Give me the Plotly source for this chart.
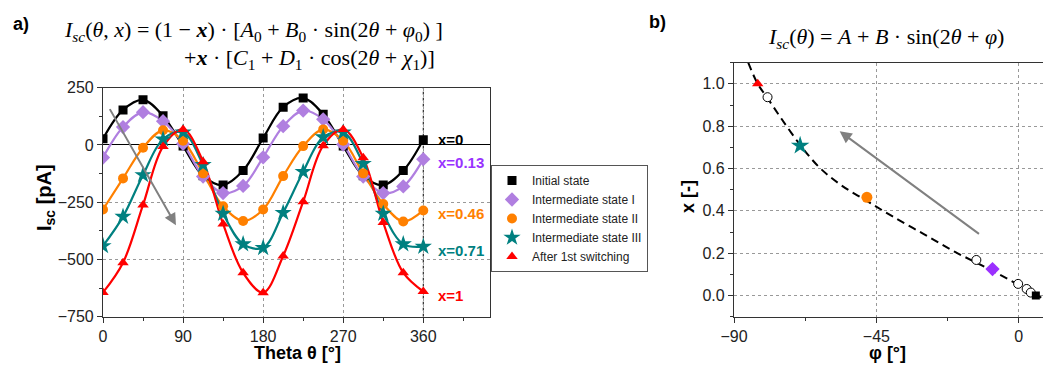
import plotly.graph_objects as go

# ---------------- data: panel a) ----------------
theta = [0, 22.5, 45, 67.5, 90, 112.5, 135, 157.5, 180, 202.5, 225, 247.5, 270, 292.5, 315, 337.5, 360]
isc_initial = [27, 153, 197, 127, -5, -135, -175, -112, 30, 165, 205, 134, -5, -135, -175, -112, 23]
isc_inter1 = [-55, 78, 143, 104, 5, -138, -210, -179, -54, 82, 150, 112, 2, -138, -210, -181, -62]
isc_inter2 = [-282, -146, -12, 64, 18, -124, -268, -332, -282, -136, -5, 68, 18, -124, -258, -334, -286]
isc_inter3 = [-441, -313, -131, 25, 55, -87, -300, -433, -449, -296, -117, 34, 55, -82, -300, -433, -444]
isc_switch = [-644, -514, -262, -7, 68, -73, -345, -558, -645, -485, -248, -3, 68, -56, -339, -558, -640]

series_names = ["Initial state", "Intermediate state I", "Intermediate state II",
                "Intermediate state III", "After 1st switching"]
end_labels = ["x=0", "x=0.13", "x=0.46", "x=0.71", "x=1"]
end_label_y = [22, -76, -298, -463, -656]

# ---------------- data: panel b) ----------------
phi_states = [5.4, -8.3, -48.0, -69.1, -82.5]
x_states = [0.0, 0.125, 0.464, 0.708, 1.0]
phi_open = [-79.4, -13.4, -0.2, 2.5, 3.8]
x_open = [0.937, 0.168, 0.055, 0.031, 0.014]
phi_fit = [-85.5, -82.5, -79.5, -75, -69, -63, -56, -48, -40, -30, -20, -10, 0, 10]
x_fit = [1.10, 1.00, 0.935, 0.835, 0.71, 0.605, 0.52, 0.447, 0.375, 0.29, 0.205, 0.13, 0.05, -0.035]

# ---------------- styles ----------------
colors = ["#000000", "#B07FE0", "#FF8000", "#008080", "#FF0000"]
label_colors = ["#000000", "#9933FF", "#FF8000", "#008080", "#FF0000"]
right_colors = ["#000000", "#9B30FF", "#FF8000", "#008080", "#FF0000"]
symbols = ["square", "diamond", "circle", "star", "triangle-up"]
sizes = [9, 11, 10, 13, 10]
right_sizes = [8, 11, 11, 14, 10]

OFF = 8  # default page body margin
W, H = 1051 - OFF, 373 - OFF
def px(x): return (x - OFF) / W
def py(y): return 1 - (y - OFF) / H

fig = go.Figure()
all_series = [isc_initial, isc_inter1, isc_inter2, isc_inter3, isc_switch]

for i, ys in enumerate(all_series):
    fig.add_trace(go.Scatter(x=theta, y=ys, mode="lines", line=dict(color=colors[i], width=2.2, shape="spline", smoothing=1.0),
                             showlegend=False, hoverinfo="skip", xaxis="x", yaxis="y"))
for i, ys in enumerate(all_series):
    fig.add_trace(go.Scatter(x=theta, y=ys, mode="markers", name=series_names[i],
                             marker=dict(color=colors[i], symbol=symbols[i], size=sizes[i], line=dict(width=0)),
                             xaxis="x", yaxis="y"))

# panel b
fig.add_trace(go.Scatter(x=phi_fit, y=x_fit, mode="lines",
                         line=dict(color="black", width=2, dash="8px,5px", shape="spline", smoothing=1.0),
                         showlegend=False, xaxis="x2", yaxis="y2"))
fig.add_trace(go.Scatter(x=phi_open, y=x_open, mode="markers",
                         marker=dict(color="white", symbol="circle", size=9, line=dict(color="black", width=1)),
                         showlegend=False, xaxis="x2", yaxis="y2"))
for i in range(5):
    fig.add_trace(go.Scatter(x=[phi_states[i]], y=[x_states[i]], mode="markers",
                             marker=dict(color=right_colors[i], symbol=symbols[i], size=right_sizes[i], line=dict(width=0)),
                             showlegend=False, xaxis="x2", yaxis="y2"))

tickfont = dict(family="Arial, Liberation Sans, sans-serif", size=16, color="#222")
axis_common = dict(showline=True, linecolor="#333", linewidth=1.2, mirror=True, ticks="outside", ticklen=5,
                   tickcolor="#333", tickfont=tickfont, showgrid=True, gridcolor="#999", griddash="dot", gridwidth=1,
                   automargin=False)

fig.update_layout(
    width=W, height=H, margin=dict(l=0, r=0, t=0, b=0, autoexpand=False),
    paper_bgcolor="white", plot_bgcolor="white",
    xaxis=dict(domain=[px(103), px(490)], range=[0, 435], tick0=0, dtick=90, zeroline=False,
               minor=dict(dtick=45, ticklen=3, ticks="outside", showgrid=False), anchor="y", **axis_common),
    yaxis=dict(domain=[py(316.7), py(87.7)], range=[-750, 250], tick0=0, dtick=250,
               zeroline=True, zerolinecolor="black", zerolinewidth=1.2,
               minor=dict(dtick=125, ticklen=3, ticks="outside", showgrid=False), anchor="x", **axis_common),
    xaxis2=dict(domain=[px(734), px(1050.4)], range=[-90, 10], tick0=0, dtick=45, zeroline=False,
                minor=dict(dtick=22.5, ticklen=3, ticks="outside", showgrid=False), anchor="y2", **axis_common),
    yaxis2=dict(domain=[py(316.7), py(62.7)], range=[-0.1, 1.1], tick0=0, dtick=0.2, tickformat=".1f", zeroline=False,
                minor=dict(dtick=0.1, ticklen=3, ticks="outside", showgrid=False), anchor="x2", **axis_common),
    legend=dict(x=px(491), y=py(165), xanchor="left", yanchor="top", bgcolor="white",
                bordercolor="#555", borderwidth=1, font=dict(family="Arial, Liberation Sans, sans-serif", size=12, color="#222"),
                tracegroupgap=0, itemwidth=30),
    showlegend=True,
)

# dashed line at 360
fig.add_shape(type="line", xref="x", yref="y", x0=360, x1=360, y0=-750, y1=250,
              line=dict(color="black", width=1, dash="3px,3px"), layer="below")

# arrows
fig.add_annotation(xref="x", yref="y", axref="x", ayref="y", x=82, y=-351, ax=6.7, ay=163,
                   showarrow=True, arrowhead=2, arrowsize=1.2, arrowwidth=2, arrowcolor="#808080", text="")
fig.add_annotation(xref="x2", yref="y2", axref="x2", ayref="y2", x=-56.6, y=0.776, ax=-12.1, ay=0.286,
                   showarrow=True, arrowhead=2, arrowsize=1.2, arrowwidth=2, arrowcolor="#808080", text="")

# end labels
for i in range(5):
    fig.add_annotation(xref="x", yref="y", x=374.5, y=end_label_y[i], text="<b>%s</b>" % end_labels[i],
                       showarrow=False, xanchor="left", yanchor="middle",
                       font=dict(family="Arial, Liberation Sans, sans-serif", size=15, color=label_colors[i]))

bold_font = dict(family="Arial, Liberation Sans, sans-serif", size=18, color="black")
serif = dict(family="Liberation Serif, DejaVu Serif, serif", size=22, color="black")

def ann(x, y, text, font, xanchor="center", angle=0):
    fig.add_annotation(xref="paper", yref="paper", x=px(x), y=py(y), text=text, showarrow=False,
                       xanchor=xanchor, yanchor="middle", font=font, textangle=angle)

ann(21, 24, "<b>a)</b>", bold_font)
ann(657, 22, "<b>b)</b>", bold_font)
ann(62, 31, "<i>I</i><sub><i>sc</i></sub>(<i>θ</i>, <i>x</i>) = (1 − <b><i>x</i></b>) · [<i>A</i><sub>0</sub> + <i>B</i><sub>0</sub> · sin(2<i>θ</i> + <i>φ</i><sub>0</sub>) ]", serif, "left")
ann(182, 59, "+<b><i>x</i></b> · [<i>C</i><sub>1</sub> + <i>D</i><sub>1</sub> · cos(2<i>θ</i> + <i>χ</i><sub>1</sub>)]", serif, "left")
ann(886, 38, "<i>I</i><sub><i>sc</i></sub>(<i>θ</i>) = <i>A</i> + <i>B</i> · sin(2<i>θ</i> + <i>φ</i>)", serif)

ann(297, 353, "<b>Theta θ [°]</b>", bold_font)
ann(45, 198, "<b>I<sub>sc</sub> [pA]</b>", dict(family="Arial, Liberation Sans, sans-serif", size=20, color="black"), angle=-90)
ann(887, 353, "<b>φ [°]</b>", bold_font)
ann(688, 197, "<b>x [-]</b>", bold_font, angle=-90)

fig.write_html("out.html")
